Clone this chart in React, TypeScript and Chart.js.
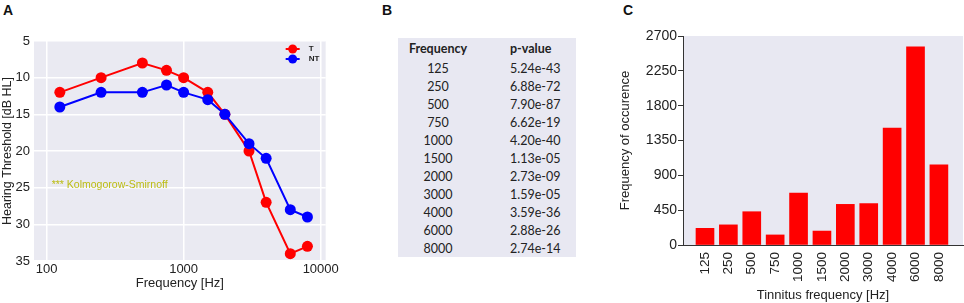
import React, { useEffect, useRef } from "react";
import { Chart, registerables } from "chart.js";

Chart.register(...registerables);

// ---------- Panel A data ----------
const freqsA = [125, 250, 500, 750, 1000, 1500, 2000, 3000, 4000, 6000, 8000];
const thresholdT = [12, 10, 8, 9, 10, 12, 15, 20, 27, 34, 33];
const thresholdNT = [14, 12, 12, 11, 12, 13, 15, 19, 21, 28, 29];
const xTicksA = [100, 1000, 10000];
const yTicksA = [5, 10, 15, 20, 25, 30, 35];
const ksNoteText = "*** Kolmogorow-Smirnoff";

// ---------- Panel B data ----------
const tableFreqs = ["125", "250", "500", "750", "1000", "1500", "2000", "3000", "4000", "6000", "8000"];
const pValues = ["5.24e-43", "6.88e-72", "7.90e-87", "6.62e-19", "4.20e-40", "1.13e-05", "2.73e-09", "1.59e-05", "3.59e-36", "2.88e-26", "2.74e-14"];

// ---------- Panel C data ----------
const tinnitusCats = ["125", "250", "500", "750", "1000", "1500", "2000", "3000", "4000", "6000", "8000"];
const occurrence = [215, 260, 430, 130, 670, 180, 525, 535, 1510, 2560, 1035];
const yTicksC = [0, 450, 900, 1350, 1800, 2250, 2700];

const FONT = "'Liberation Sans', Arial, sans-serif";
const TXT = "#222222";

const bgPlugin = (color: string) => ({
  id: "bg_" + color,
  beforeDraw(chart: any) {
    const { ctx, chartArea } = chart;
    ctx.save();
    ctx.fillStyle = color;
    ctx.fillRect(chartArea.left, chartArea.top, chartArea.right - chartArea.left, chartArea.bottom - chartArea.top);
    ctx.restore();
  },
});

const legendA = {
  id: "legendA",
  afterDatasetsDraw(chart: any) {
    const { ctx, chartArea } = chart;
    ctx.save();
    chart.data.datasets.forEach((ds: any, i: number) => {
      const y = chartArea.top + 8 + i * 10;
      const x0 = chartArea.right - 40;
      const x1 = chartArea.right - 26;
      ctx.strokeStyle = ds.borderColor;
      ctx.lineWidth = 2;
      ctx.beginPath();
      ctx.moveTo(x0, y);
      ctx.lineTo(x1, y);
      ctx.stroke();
      ctx.fillStyle = ds.borderColor;
      ctx.beginPath();
      ctx.arc((x0 + x1) / 2, y, 4.5, 0, Math.PI * 2);
      ctx.fill();
      ctx.fillStyle = TXT;
      ctx.font = "bold 8px " + FONT;
      ctx.textAlign = "left";
      ctx.textBaseline = "middle";
      ctx.fillText(ds.label, chartArea.right - 17, y);
    });
    ctx.restore();
  },
};

const noteA = {
  id: "noteA",
  afterDatasetsDraw(chart: any) {
    const { ctx, scales } = chart;
    ctx.save();
    ctx.fillStyle = "#bcbc12";
    ctx.font = "10.5px " + FONT;
    ctx.textAlign = "left";
    ctx.textBaseline = "middle";
    ctx.fillText(ksNoteText, scales.x.getPixelForValue(109), scales.y.getPixelForValue(24.6));
    ctx.restore();
  },
};

function PanelA() {
  const ref = useRef<HTMLCanvasElement>(null);
  useEffect(() => {
    const chart = new Chart(ref.current!, {
      type: "line",
      data: {
        datasets: [
          {
            label: "T",
            data: freqsA.map((f, i) => ({ x: f, y: thresholdT[i] })),
            borderColor: "#ff0000",
            backgroundColor: "#ff0000",
            borderWidth: 2,
            pointRadius: 5.5,
            pointBorderWidth: 0,
            tension: 0,
            order: 1,
          },
          {
            label: "NT",
            data: freqsA.map((f, i) => ({ x: f, y: thresholdNT[i] })),
            borderColor: "#0000ff",
            backgroundColor: "#0000ff",
            borderWidth: 2,
            pointRadius: 5.5,
            pointBorderWidth: 0,
            tension: 0,
            order: 0,
          },
        ],
      },
      options: {
        animation: false,
        responsive: false,
        devicePixelRatio: 1,
        layout: { padding: { top: 41, right: 13, left: 0, bottom: 0 } },
        plugins: { legend: { display: false }, tooltip: { enabled: false } },
        scales: {
          x: {
            type: "logarithmic",
            min: 81,
            max: 10870,
            afterBuildTicks: (s: any) => {
              s.ticks = xTicksA.map((v) => ({ value: v }));
            },
            afterFit: (s: any) => {
              s.height = 42;
            },
            grid: { color: "#ffffff", lineWidth: 1.5, drawTicks: false },
            border: { display: false },
            ticks: {
              callback: (v: any) => String(v),
              font: { family: FONT, size: 13 },
              color: TXT,
              padding: 1,
              maxRotation: 0,
              autoSkip: false,
            },
            title: {
              display: true,
              text: "Frequency [Hz]",
              font: { family: FONT, size: 13 },
              color: TXT,
              padding: { top: 0, bottom: 12 },
            },
          },
          y: {
            type: "linear",
            reverse: true,
            min: 5,
            max: 35,
            afterBuildTicks: (s: any) => {
              s.ticks = yTicksA.map((v) => ({ value: v }));
            },
            afterFit: (s: any) => {
              s.width = 34;
            },
            grid: { color: "#ffffff", lineWidth: 1.5, drawTicks: false },
            border: { display: false },
            ticks: {
              callback: (v: any) => String(v),
              font: { family: FONT, size: 13 },
              color: TXT,
              padding: 4,
            },
            title: {
              display: true,
              text: "Hearing Threshold [dB HL]",
              font: { family: FONT, size: 12.5 },
              color: TXT,
              padding: { top: 0, bottom: 0 },
            },
          },
        },
      },
      plugins: [bgPlugin("#eaeaf2"), legendA, noteA],
    } as any);
    return () => chart.destroy();
  }, []);
  return <canvas ref={ref} width={340} height={303} style={{ position: "absolute", left: 0, top: 0 }} />;
}

function PanelC() {
  const ref = useRef<HTMLCanvasElement>(null);
  useEffect(() => {
    const chart = new Chart(ref.current!, {
      type: "bar",
      data: {
        datasets: [
          {
            label: "Frequency of occurence",
            data: occurrence.map((v, i) => ({ x: i, y: v })),
            backgroundColor: "#ff0000",
            borderWidth: 0,
            barThickness: 18,
          },
        ],
      },
      options: {
        animation: false,
        responsive: false,
        devicePixelRatio: 1,
        layout: { padding: { top: 36, right: 1, left: 0, bottom: 0 } },
        plugins: { legend: { display: false }, tooltip: { enabled: false } },
        scales: {
          x: {
            type: "linear",
            min: -0.94,
            max: 11.03,
            offset: false,
            afterBuildTicks: (s: any) => {
              s.ticks = tinnitusCats.map((_, i) => ({ value: i }));
            },
            afterFit: (s: any) => {
              s.height = 58;
            },
            grid: { display: false, drawTicks: false, offset: false },
            border: { display: true, color: "#333333", width: 1 },
            ticks: {
              callback: (v: any) => tinnitusCats[v],
              minRotation: 90,
              maxRotation: 90,
              padding: 7,
              autoSkip: false,
              font: { family: FONT, size: 13.5 },
              color: TXT,
            },
            title: {
              display: true,
              text: "Tinnitus frequency [Hz]",
              font: { family: FONT, size: 13 },
              color: TXT,
              padding: { top: 0, bottom: 0 },
            },
          },
          y: {
            type: "linear",
            min: 0,
            max: 2700,
            afterBuildTicks: (s: any) => {
              s.ticks = yTicksC.map((v) => ({ value: v }));
            },
            afterFit: (s: any) => {
              s.width = 73;
            },
            grid: { display: true, drawOnChartArea: false, drawTicks: true, tickLength: 5, color: "#333333" },
            border: { display: true, color: "#333333", width: 1 },
            ticks: {
              callback: (v: any) => String(v),
              font: { family: FONT, size: 14 },
              color: TXT,
              padding: 1,
            },
            title: {
              display: true,
              text: "Frequency of occurence",
              font: { family: FONT, size: 13 },
              color: TXT,
              padding: { top: 7.5, bottom: 0 },
            },
          },
        },
      },
      plugins: [bgPlugin("#e8e8f2")],
    } as any);
    return () => chart.destroy();
  }, []);
  return <canvas ref={ref} width={354} height={303} style={{ position: "absolute", left: 610, top: 0 }} />;
}

function PanelB() {
  const cell: React.CSSProperties = { height: 18, padding: 0, lineHeight: "18px", whiteSpace: "nowrap" };
  return (
    <div
      style={{
        position: "absolute",
        left: 398,
        top: 38,
        width: 178,
        height: 219,
        background: "#e8e8f2",
        fontFamily: "Lato, 'Open Sans', sans-serif",
        fontSize: 12.5,
        color: TXT,
      }}
    >
      <table style={{ borderCollapse: "collapse", tableLayout: "fixed", width: 178 }}>
        <colgroup>
          <col style={{ width: 80 }} />
          <col style={{ width: 98 }} />
        </colgroup>
        <thead>
          <tr>
            <th style={{ ...cell, height: 22, lineHeight: "22px", fontWeight: 700, textAlign: "center" }}>Frequency</th>
            <th style={{ ...cell, height: 22, lineHeight: "22px", fontWeight: 700, textAlign: "left", paddingLeft: 32 }}>p-value</th>
          </tr>
        </thead>
        <tbody>
          {tableFreqs.map((f, i) => (
            <tr key={f}>
              <td style={{ ...cell, textAlign: "center" }}>{f}</td>
              <td style={{ ...cell, textAlign: "left", paddingLeft: 32 }}>{pValues[i]}</td>
            </tr>
          ))}
        </tbody>
      </table>
    </div>
  );
}

const letter = (x: number): React.CSSProperties => ({
  position: "absolute",
  left: x,
  top: 3,
  fontFamily: FONT,
  fontWeight: 700,
  fontSize: 14,
  lineHeight: "14px",
  color: "#111",
});

export default function App() {
  return (
    <div style={{ position: "absolute", left: 0, top: 0, width: 964, height: 303, background: "#fff", overflow: "hidden" }}>
      <div style={letter(3)}>A</div>
      <div style={letter(382)}>B</div>
      <div style={letter(623)}>C</div>
      <PanelA />
      <PanelB />
      <PanelC />
    </div>
  );
}
